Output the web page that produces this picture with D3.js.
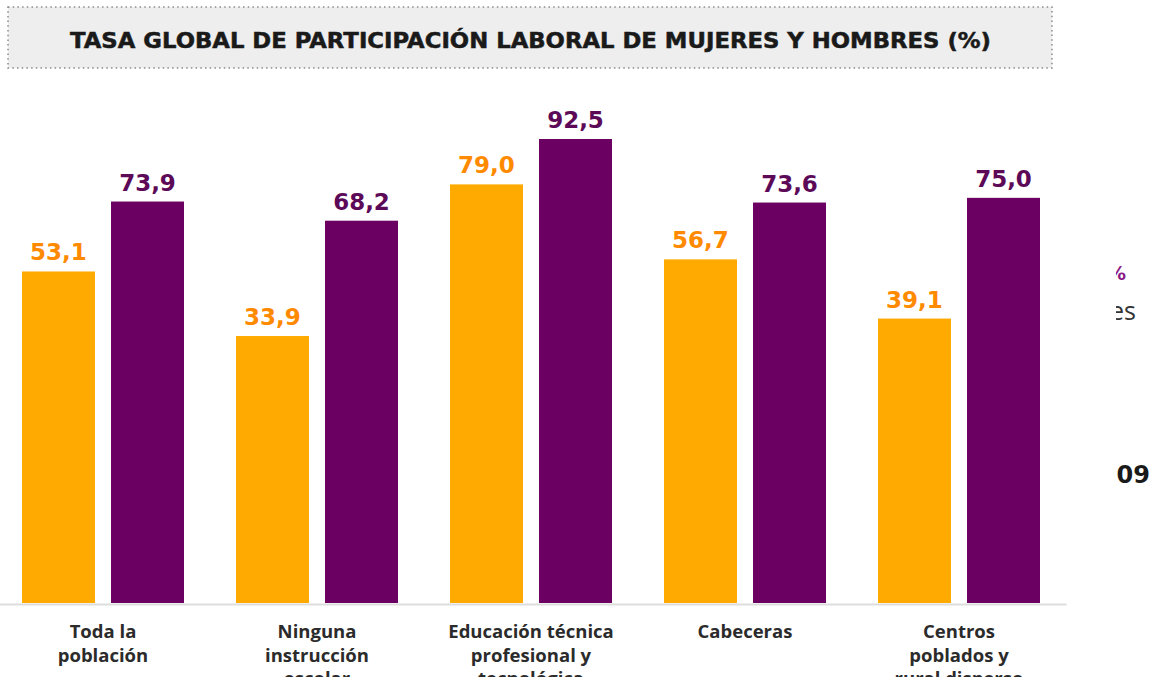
<!DOCTYPE html>
<html>
<head>
<meta charset="utf-8">
<script src="https://cdn.jsdelivr.net/npm/d3@7"></script>
<style>
  body { margin: 0; background: #fff; }
  svg { display: block; }
</style>
</head>
<body>
<svg id="chart" width="1161" height="677"></svg>
<script>
// Data
const categories = [
  "Toda la población",
  "Ninguna instrucción escolar",
  "Educación técnica profesional y tecnológica",
  "Cabeceras",
  "Centros poblados y rural disperso",
];
const categoryLines = [
  ["Toda la", "población"],
  ["Ninguna", "instrucción", "escolar"],
  ["Educación técnica", "profesional y", "tecnológica"],
  ["Cabeceras"],
  ["Centros", "poblados y", "rural disperso"],
];
const mujeres = [53.1, 33.9, 79.0, 56.7, 39.1];
const hombres = [73.9, 68.2, 92.5, 73.6, 75.0];
const seriesKeys = ["mujeres", "hombres"];
const title = "TASA GLOBAL DE PARTICIPACIÓN LABORAL DE MUJERES Y HOMBRES (%)";

const barColor = { mujeres: "#ffaa00", hombres: "#6c0062" };
const labelColor = { mujeres: "#ff8a00", hombres: "#5c0a58" };

const svg = d3.select("#chart");
const baseline = 603;

// title box
svg.append("rect")
  .attr("x", 8).attr("y", 7)
  .attr("width", 1044).attr("height", 61)
  .attr("fill", "#eeeeee")
  .attr("stroke", "#8a8a8a")
  .attr("stroke-width", 1.5)
  .attr("stroke-dasharray", "1.5,3.2");

svg.append("text")
  .attr("x", 70).attr("y", 48)
  .attr("textLength", 921)
  .attr("lengthAdjust", "spacingAndGlyphs")
  .attr("font-family", "DejaVu Sans")
  .attr("font-weight", "bold")
  .attr("font-size", 21)
  .attr("fill", "#1a1a1a")
  .attr("stroke", "#1a1a1a")
  .attr("stroke-width", 0.5)
  .text(title);

// scales (value axis doesn't start at zero in the original)
const x0 = d3.scaleBand()
  .domain(categories)
  .range([-4, 1066])
  .paddingInner(0.243)
  .paddingOuter(0.1215);

const x1 = d3.scaleBand()
  .domain(seriesKeys)
  .range([0, x0.bandwidth()])
  .paddingInner(0.18);

const y = d3.scaleLinear()
  .domain([-45.5, 92.5])
  .range([baseline, 139]);

const rows = categories.map((c, i) => ({
  cat: c,
  lines: categoryLines[i],
  values: [
    { key: "mujeres", value: mujeres[i] },
    { key: "hombres", value: hombres[i] },
  ],
}));

// axis line
const axis = svg.append("g")
  .attr("transform", `translate(0,${baseline + 1})`)
  .call(d3.axisBottom(x0).tickSize(0).tickFormat(""));
axis.select(".domain").attr("stroke", "#dddddd").attr("stroke-width", 2);

const groups = svg.selectAll(".grp")
  .data(rows)
  .enter()
  .append("g")
  .attr("class", "grp")
  .attr("transform", (d) => `translate(${x0(d.cat)},0)`);

groups.selectAll("rect")
  .data((d) => d.values)
  .enter()
  .append("rect")
  .attr("x", (d) => x1(d.key))
  .attr("y", (d) => y(d.value))
  .attr("width", x1.bandwidth())
  .attr("height", (d) => baseline - y(d.value))
  .attr("fill", (d) => barColor[d.key]);

groups.selectAll(".val")
  .data((d) => d.values)
  .enter()
  .append("text")
  .attr("class", "val")
  .attr("x", (d) => x1(d.key) + x1.bandwidth() / 2)
  .attr("y", (d) => y(d.value) - 11)
  .attr("text-anchor", "middle")
  .attr("font-family", "DejaVu Sans")
  .attr("font-weight", "bold")
  .attr("font-size", 23)
  .attr("fill", (d) => labelColor[d.key])
  .text((d) => d.value.toFixed(1).replace(".", ","));

// category labels
groups.append("text")
  .attr("text-anchor", "middle")
  .attr("font-family", "Open Sans")
  .attr("font-weight", 700)
  .attr("font-size", 18.5)
  .attr("fill", "#2b2b2b")
  .selectAll("tspan")
  .data((d) => d.lines)
  .enter()
  .append("tspan")
  .attr("x", x0.bandwidth() / 2)
  .attr("y", (d, i) => 638 + i * 23.5)
  .text((d) => d);

// fragments of neighbouring text cut at the right edge
const clip = svg.append("clipPath").attr("id", "edge");
clip.append("rect").attr("x", 1116).attr("y", 0).attr("width", 60).attr("height", 677);
const edge = svg.append("g").attr("clip-path", "url(#edge)");
edge.append("text")
  .attr("x", 1126).attr("y", 280)
  .attr("text-anchor", "end")
  .attr("font-family", "DejaVu Sans").attr("font-weight", "bold").attr("font-size", 19)
  .attr("fill", "#8a1a84")
  .text("%");
edge.append("text")
  .attr("x", 1136).attr("y", 320)
  .attr("text-anchor", "end")
  .attr("font-family", "Open Sans").attr("font-size", 25)
  .attr("fill", "#333")
  .text("ujeres");
edge.append("text")
  .attr("x", 1150).attr("y", 483)
  .attr("text-anchor", "end")
  .attr("font-family", "DejaVu Sans").attr("font-weight", "bold").attr("font-size", 24)
  .attr("fill", "#1a1a1a")
  .text("2009");
</script>
</body>
</html>
